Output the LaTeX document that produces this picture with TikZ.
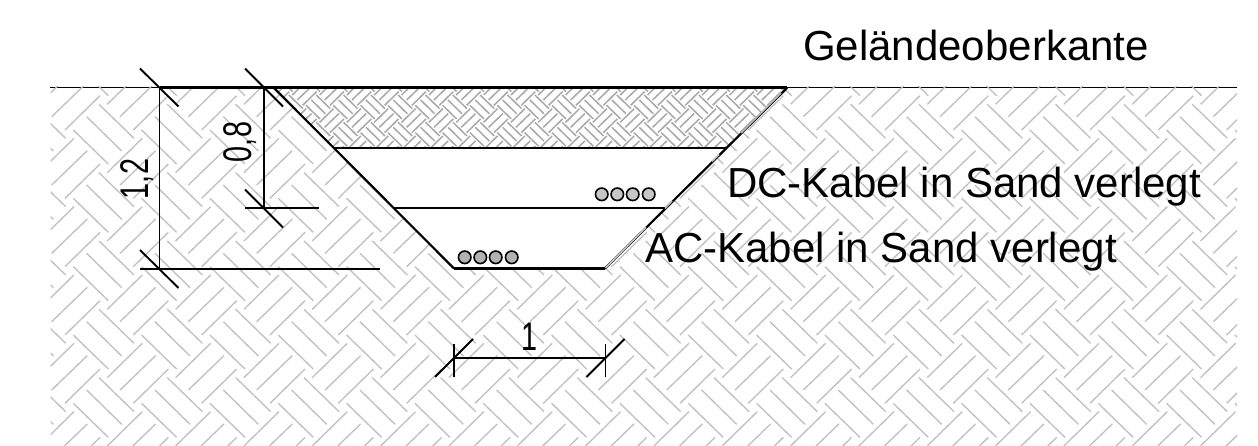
\documentclass[tikz,border=0pt]{standalone}
\usepackage{fontspec}
\setmainfont{Liberation Sans}
\definecolor{hatch}{gray}{0.75}
\definecolor{hatchdark}{gray}{0.66}
\tikzset{
  x=1pt,y=-1pt,
  groundline/.style={line width=1.7pt,black},
  thickline/.style={line width=2.2pt,black},
  dimline/.style={line width=1.9pt,black},
  cable/.style={circle,draw=black,line width=1.6pt,minimum size=12.5pt,inner sep=0pt},
  lab/.style={inner sep=0pt,font=\fontsize{42}{50}\selectfont},
  dimlab/.style={inner sep=0pt,font=\fontsize{40}{46}\selectfont},
  bighatch/.style={hatch,line width=1.3pt},
  smallhatch/.style={hatchdark,line width=1.5pt},
}
\begin{document}
\begin{tikzpicture}
\useasboundingbox (0,0) rectangle (1258,446);
\fill[white] (0,0) rectangle (1258,446);
% ground surface beneath hatch
\draw[groundline] (50,87.5) -- (1237,87.5);
% ground hatch
\begin{scope}
  \clip (50.5,87) rectangle (1237,446);
  \foreach \i in {-1,...,18}{\foreach \j in {-1,...,8}{
    \begin{scope}[shift={(51.7+\i*68.33,321.7+\j*68.33-341.65)}]
    \draw[bighatch] (0,0)--(35.6,-34.4) (13.3,13.3)--(48.3,-21) (55.6,-12.4)--(90.6,-46.7)
          (47.3,-12.4)--(82.3,21.6) (35,0)--(70,34.3) (21.6,13.3)--(56.6,47.3);
    \end{scope}}}
\end{scope}
% trench
\fill[white] (274,88) -- (787,88) -- (605,268.5) -- (454,268.5) -- cycle;
\begin{scope}
  \clip (274,88) -- (787,88) -- (727,148) -- (334,148) -- cycle;
  \foreach \i in {-1,...,20}{\foreach \j in {-1,...,4}{
    \begin{scope}[shift={(270+\i*27.33,100+\j*27.33)},scale=0.4]
    \draw[smallhatch] (0,0)--(35.6,-34.4) (13.3,13.3)--(48.3,-21) (55.6,-12.4)--(90.6,-46.7)
          (47.3,-12.4)--(82.3,21.6) (35,0)--(70,34.3) (21.6,13.3)--(56.6,47.3);
    \end{scope}}}
\end{scope}
\coordinate (tl) at (274,88);
\coordinate (tr) at (787,88);
\coordinate (bl) at (454,268.5);
\coordinate (br) at (605,268.5);
\coordinate (sl1) at (333,147.7);
\coordinate (sr1) at (727,147.7);
\coordinate (sl2) at (393,207.7);
\coordinate (sr2) at (667,207.7);
\draw[thickline] (bl) -- (tl);
\draw[thickline] (br) -- (tr);
\draw[thickline] (bl) -- (br);
\draw[thickline] (sl1) -- (sr1);
\draw[thickline] (sl2) -- (sr2);
% hatch lines lying over the right slope
\draw[hatch,line width=1.6pt] (605.5,268) -- (646,227.5) (665,208.5) -- (672,201) (712,161.5) -- (719,154.5) (741,133) -- (781,93);
% ground line on top
\draw[thickline] (160,87.5) -- (787,87.5);
% cables
\foreach \x [count=\n] in {601.7,617.3,632.7,648.7}
  \node[cable,fill=black!22] (dc\n) at (\x,194.3) {};
\foreach \x [count=\n] in {464.7,480.3,495.7,511.7}
  \node[cable,fill=black!30] (ac\n) at (\x,257.3) {};
% dimension 1,2
\coordinate (a1) at (159.5,88); \coordinate (a2) at (159.5,268.5);
\draw[dimline] (a1) -- (a2);
\draw[dimline] (140,68.5) -- (178.5,106.5);
\draw[dimline] (140,250) -- (178.5,288);
\draw[dimline] (140,268.7) -- (380,268.7);
% dimension 0,8
\coordinate (b1) at (264,88); \coordinate (b2) at (264,208);
\draw[dimline] (b1) -- (b2);
\draw[dimline] (245,68.5) -- (283,106.5);
\draw[dimline] (245,189.5) -- (283,227.5);
\draw[dimline] (245,208) -- (319,208);
% dimension 1
\coordinate (c1) at (454,357.7); \coordinate (c2) at (605.5,357.7);
\draw[dimline] (c1) -- (c2);
\draw[dimline] (454,344) -- (454,377);
\draw[dimline] (605.5,344) -- (605.5,377);
\draw[dimline] (435,377) -- (473,339);
\draw[dimline] (586.5,377) -- (624.5,339);
% labels
\node[lab,anchor=base west] (gok) at (803,61) {Geländeoberkante};
\node[lab,anchor=base west] (dclab) at (727,198) {DC-Kabel in Sand verlegt};
\node[lab,anchor=base west] (aclab) at (645,263) {AC-Kabel in Sand verlegt};
\node[dimlab,anchor=base,rotate=90,xscale=0.72] (d12) at (148,179) {1,2};
\node[dimlab,anchor=base,rotate=90,xscale=0.72] (d08) at (251,142) {0,8};
\node[dimlab,anchor=base,xscale=0.72] (d1) at (530,350) {1};
\end{tikzpicture}
\end{document}
